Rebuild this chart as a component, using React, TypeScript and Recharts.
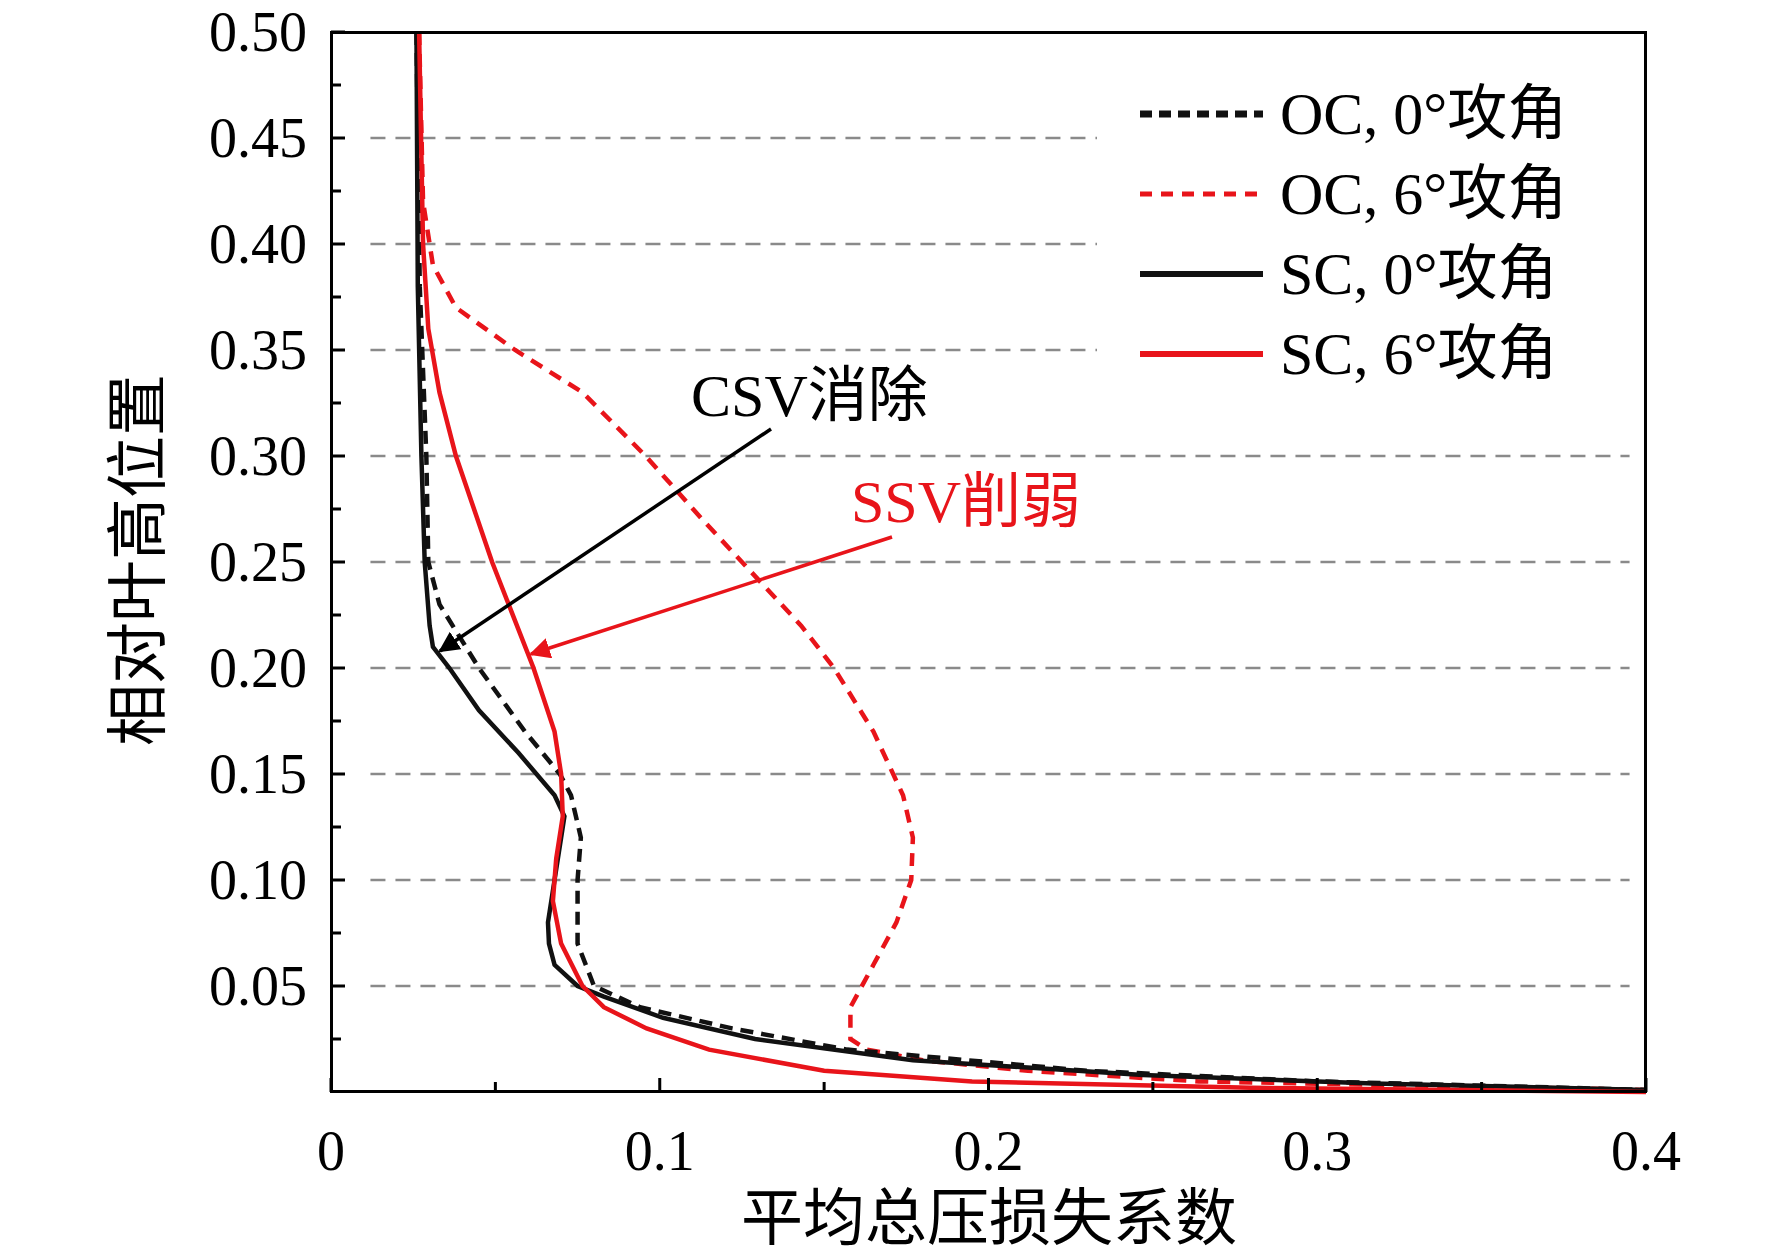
import React from "react"
import { ScatterChart, Scatter, XAxis, YAxis, ReferenceLine } from "recharts"

type Pt = { x: number; y: number }

const xTicks = [0, 0.05, 0.1, 0.15, 0.2, 0.25, 0.3, 0.35, 0.4]
const xLabels = ["0", "0.1", "0.2", "0.3", "0.4"]
const yTicks = [0.025, 0.05, 0.075, 0.1, 0.125, 0.15, 0.175, 0.2, 0.225, 0.25, 0.275, 0.3, 0.325, 0.35, 0.375, 0.4, 0.425, 0.45, 0.475, 0.5]
const gridShort = [0.35, 0.4, 0.45]
const gridLong = [0.05, 0.1, 0.15, 0.2, 0.25, 0.3]

const ocZero: Pt[] = [
  { x: 0.026, y: 0.5 }, { x: 0.027, y: 0.38 }, { x: 0.029, y: 0.3 }, { x: 0.0296, y: 0.25 },
  { x: 0.033, y: 0.23 }, { x: 0.045, y: 0.2 }, { x: 0.059, y: 0.17 }, { x: 0.0696, y: 0.15 },
  { x: 0.073, y: 0.14 }, { x: 0.076, y: 0.12 }, { x: 0.075, y: 0.1 }, { x: 0.075, y: 0.07 },
  { x: 0.08, y: 0.05 }, { x: 0.094, y: 0.04 }, { x: 0.122, y: 0.03 }, { x: 0.157, y: 0.02 },
  { x: 0.23, y: 0.01 }, { x: 0.3, y: 0.005 }, { x: 0.4, y: 0.001 },
]
const ocSix: Pt[] = [
  { x: 0.0268, y: 0.5 }, { x: 0.028, y: 0.42 }, { x: 0.031, y: 0.39 }, { x: 0.038, y: 0.37 },
  { x: 0.056, y: 0.35 }, { x: 0.0765, y: 0.33 }, { x: 0.0957, y: 0.3 }, { x: 0.113, y: 0.27 },
  { x: 0.125, y: 0.25 }, { x: 0.143, y: 0.22 }, { x: 0.153, y: 0.2 }, { x: 0.165, y: 0.17 },
  { x: 0.174, y: 0.14 }, { x: 0.177, y: 0.12 }, { x: 0.1765, y: 0.1 }, { x: 0.172, y: 0.08 },
  { x: 0.165, y: 0.06 }, { x: 0.158, y: 0.04 }, { x: 0.158, y: 0.025 }, { x: 0.163, y: 0.02 },
  { x: 0.18, y: 0.015 }, { x: 0.212, y: 0.01 }, { x: 0.264, y: 0.005 }, { x: 0.4, y: 0.001 },
]
const scZero: Pt[] = [
  { x: 0.026, y: 0.5 }, { x: 0.0264, y: 0.38 }, { x: 0.0275, y: 0.3 }, { x: 0.0285, y: 0.25 },
  { x: 0.03, y: 0.22 }, { x: 0.031, y: 0.21 }, { x: 0.036, y: 0.2 }, { x: 0.045, y: 0.18 },
  { x: 0.057, y: 0.16 }, { x: 0.068, y: 0.14 }, { x: 0.071, y: 0.13 }, { x: 0.07, y: 0.12 },
  { x: 0.068, y: 0.1 }, { x: 0.066, y: 0.08 }, { x: 0.0663, y: 0.07 }, { x: 0.068, y: 0.06 },
  { x: 0.075, y: 0.05 }, { x: 0.083, y: 0.045 }, { x: 0.101, y: 0.035 }, { x: 0.129, y: 0.025 },
  { x: 0.177, y: 0.015 }, { x: 0.247, y: 0.008 }, { x: 0.317, y: 0.004 }, { x: 0.4, y: 0.001 },
]
const scSix: Pt[] = [
  { x: 0.0268, y: 0.5 }, { x: 0.028, y: 0.4 }, { x: 0.0296, y: 0.36 }, { x: 0.033, y: 0.33 },
  { x: 0.038, y: 0.3 }, { x: 0.049, y: 0.25 }, { x: 0.0616, y: 0.2 }, { x: 0.068, y: 0.17 },
  { x: 0.07, y: 0.15 }, { x: 0.0705, y: 0.13 }, { x: 0.0685, y: 0.11 }, { x: 0.0675, y: 0.09 },
  { x: 0.07, y: 0.07 }, { x: 0.0765, y: 0.05 }, { x: 0.083, y: 0.04 }, { x: 0.096, y: 0.03 },
  { x: 0.115, y: 0.02 }, { x: 0.15, y: 0.01 }, { x: 0.195, y: 0.005 }, { x: 0.28, y: 0.002 },
  { x: 0.4, y: 0.0 },
]

const legendItems = [
  { label: "OC, 0°攻角", color: "#111", dash: "12 7", width: 7 },
  { label: "OC, 6°攻角", color: "#e8141a", dash: "12 9", width: 5 },
  { label: "SC, 0°攻角", color: "#111", dash: "", width: 6 },
  { label: "SC, 6°攻角", color: "#e8141a", dash: "", width: 6 },
]

const W = 1772
const H = 1257
const M = { top: 32, right: 126, bottom: 20, left: 20 }
const YW = 311
const XH = 145
const font = "'Liberation Serif', 'Noto Sans CJK SC', serif"

const XTick = (props: any) => {
  const { x, y, payload } = props
  const v = payload.value
  const major = Math.abs(v * 10 - Math.round(v * 10)) < 1e-6
  const ay = H - M.bottom - XH
  return (
    <g>
      <line x1={x} x2={x} y1={ay} y2={ay - (major ? 14 : 10)} stroke="#000" strokeWidth={3} />
      {major && (
        <text x={x} y={ay + 78} textAnchor="middle" fontSize={56} fontFamily={font} fill="#000">
          {xLabels[Math.round(v * 10)]}
        </text>
      )}
    </g>
  )
}

const YTick = (props: any) => {
  const { y, payload } = props
  const v = payload.value
  const major = Math.abs(v * 20 - Math.round(v * 20)) < 1e-6
  const ax = M.left + YW
  return (
    <g>
      <line x1={ax} x2={ax + (major ? 14 : 10)} y1={y} y2={y} stroke="#000" strokeWidth={3} />
      {major && (
        <text x={ax - 24} y={y + 19} textAnchor="end" fontSize={56} fontFamily={font} fill="#000">
          {v.toFixed(2)}
        </text>
      )}
    </g>
  )
}

export default function App() {
  const pl = M.left + YW
  const pw = W - pl - M.right
  const ph = H - M.top - M.bottom - XH
  return (
    <div style={{ position: "absolute", left: 0, top: 0, width: W, height: H, background: "#fff", fontFamily: font }}>
      <ScatterChart width={W} height={H} margin={M}>
        <XAxis type="number" dataKey="x" domain={[0, 0.4]} ticks={xTicks} interval={0} height={XH}
          axisLine={false} tickLine={false} tick={<XTick />} />
        <YAxis type="number" dataKey="y" domain={[0, 0.5]} ticks={yTicks} interval={0} width={YW}
          axisLine={false} tickLine={false} tick={<YTick />} />
        {gridShort.map((v) => (
          <ReferenceLine key={v} segment={[{ x: 0.012, y: v }, { x: 0.233, y: v }]}
            stroke="#8a8a8a" strokeWidth={2.5} strokeDasharray="15 10" />
        ))}
        {gridLong.map((v) => (
          <ReferenceLine key={v} segment={[{ x: 0.012, y: v }, { x: 0.395, y: v }]}
            stroke="#8a8a8a" strokeWidth={2.5} strokeDasharray="15 10" />
        ))}
        <Scatter data={ocSix} shape={() => null} isAnimationActive={false}
          line={{ stroke: "#e8141a", strokeWidth: 4.5, strokeDasharray: "13 9" }} lineType="joint" />
        <Scatter data={ocZero} shape={() => null} isAnimationActive={false}
          line={{ stroke: "#111", strokeWidth: 4.5, strokeDasharray: "13 8" }} lineType="joint" />
        <Scatter data={scZero} shape={() => null} isAnimationActive={false}
          line={{ stroke: "#111", strokeWidth: 4.5 }} lineType="joint" />
        <Scatter data={scSix} shape={() => null} isAnimationActive={false}
          line={{ stroke: "#e8141a", strokeWidth: 4.5 }} lineType="joint" />
      </ScatterChart>

      <div style={{ position: "absolute", left: pl - 1, top: M.top - 1, width: pw + 2, height: ph + 2, border: "3px solid #000", boxSizing: "border-box", pointerEvents: "none" }} />

      <svg width={W} height={H} style={{ position: "absolute", left: 0, top: 0, pointerEvents: "none" }}>
        <defs>
          <marker id="ab" viewBox="0 0 10 10" refX="9" refY="5" markerWidth="6" markerHeight="6" orient="auto">
            <path d="M0,0 L10,5 L0,10 z" fill="#000" />
          </marker>
          <marker id="ar" viewBox="0 0 10 10" refX="9" refY="5" markerWidth="6" markerHeight="6" orient="auto">
            <path d="M0,0 L10,5 L0,10 z" fill="#e8141a" />
          </marker>
        </defs>
        <line x1={771} y1={429} x2={440} y2={651} stroke="#000" strokeWidth={3.5} markerEnd="url(#ab)" />
        <line x1={892} y1={537} x2={531} y2={654} stroke="#e8141a" strokeWidth={3.5} markerEnd="url(#ar)" />
        <text x={691} y={416} fontSize={60} fontFamily={font} fill="#000">CSV消除</text>
        <text x={851} y={522} fontSize={60} fontFamily={font} fill="#e8141a">SSV削弱</text>
        {legendItems.map((it, i) => (
          <g key={it.label}>
            <line x1={1140} x2={1263} y1={114 + i * 80} y2={114 + i * 80} stroke={it.color}
              strokeWidth={it.width} strokeDasharray={it.dash || undefined} />
            <text x={1280} y={134 + i * 80} fontSize={60} fontFamily={font} fill="#000">{it.label}</text>
          </g>
        ))}
        <text x={989} y={1240} textAnchor="middle" fontSize={62} fontFamily={font} fill="#000">平均总压损失系数</text>
        <text transform="translate(160,560) rotate(-90)" textAnchor="middle" fontSize={62} fontFamily={font} fill="#000">相对叶高位置</text>
      </svg>
    </div>
  )
}
